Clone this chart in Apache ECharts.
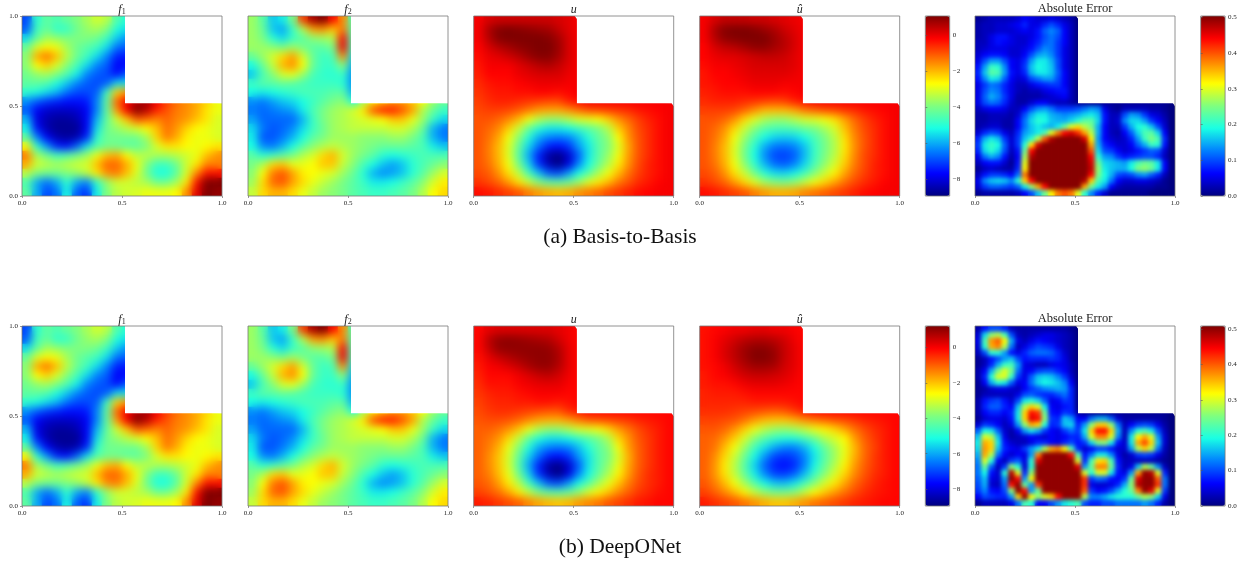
<!DOCTYPE html>
<html><head><meta charset="utf-8">
<script src="https://cdn.jsdelivr.net/npm/echarts@6/dist/echarts.min.js"></script>
<style>html,body{margin:0;padding:0;background:#fff}#c{width:1249px;height:565px}</style>
</head><body><div id="c"></div>
<script>
const unitTicks=[0,0.5,1];
const solutionTicks=[-8,-6,-4,-2,0];
const errorTicks=[0,0.1,0.2,0.3,0.4,0.5];
const f1Range=[-2,100];
const f2Range=[-6,100];
const solutionRangeA=[-8.94,1.06];
const solutionRangeB=[-8.96,1.22];
const errorRangeA=[0,50.4];
const errorRangeB=[0,50.9];
const f1Rows=[
[18,39,45,43,46,49,53,57,55,43,38],
[20,41,46,39,40,47,51,53,49,37,33],
[33,45,53,51,49,49,49,47,41,31,25],
[46,58,62,60,53,47,44,41,33,22,20],
[50,70,76,68,55,47,41,33,24,14,13],
[50,62,66,58,50,42,33,24,20,10,12],
[47,51,53,49,43,35,24,20,18,12,20],
[45,45,43,37,31,24,20,18,20,33,33],
[39,37,33,29,22,18,18,20,41,66,72],
[25,20,16,14,12,12,13,24,45,77,88,94,96,88,81,76,73,70,66,60],
[20,10,6,5,5,6,10,24,45,72,88,100,94,84,79,75,73,70,64,60],
[29,8,3,1,1,3,10,29,45,57,68,79,77,74,77,74,72,68,64,58],
[35,12,3,0,0,0,10,33,47,51,55,58,62,68,76,72,66,62,60,58],
[45,24,10,3,1,3,14,39,47,47,47,47,53,66,75,70,63,60,60,58],
[62,39,26,14,12,20,33,43,47,47,45,45,49,58,64,64,62,60,62,64],
[75,53,47,41,43,47,52,60,68,70,62,55,55,53,53,55,57,60,68,73],
[70,57,55,53,55,57,58,68,77,77,70,60,49,41,41,47,57,64,74,74],
[55,49,47,47,49,51,55,64,73,75,68,58,47,37,37,45,58,74,86,86],
[43,28,22,28,39,28,24,39,51,57,57,55,53,47,47,53,64,86,100,100],
[45,28,18,22,37,20,16,35,49,55,57,58,60,60,60,62,73,90,100,98]];
const f2Rows=[
[50,42,28,32,46,80,96,100,86,72,40],
[50,44,28,24,38,52,70,72,66,74,40],
[50,46,36,30,38,42,48,50,52,86,40],
[50,50,48,46,50,46,42,42,46,88,40],
[44,50,56,64,70,56,44,38,40,72,30],
[34,44,54,68,72,60,44,38,38,48,25],
[28,40,48,56,58,50,40,37,36,38,22],
[38,42,42,44,42,40,38,38,38,36,22],
[34,32,34,36,38,40,40,40,42,42,25],
[22,20,24,28,30,34,38,42,46,48,34,50,62,66,70,70,66,60,50,44],
[20,18,20,22,24,32,40,46,50,52,56,62,78,84,84,78,70,52,44,38],
[24,18,18,18,18,26,38,46,50,52,54,56,58,60,66,66,58,50,38,30],
[30,20,16,18,22,30,38,44,50,52,54,54,54,54,56,56,52,44,26,20],
[32,16,16,20,26,34,42,46,50,50,50,48,48,48,50,50,46,40,26,20],
[34,22,20,26,34,42,48,52,54,52,50,48,46,44,44,44,42,40,32,28],
[42,36,38,42,46,52,56,64,68,56,50,46,42,36,34,36,38,40,40,40],
[46,52,64,66,58,58,60,66,66,54,48,40,34,28,24,28,36,40,44,48],
[48,60,74,78,70,62,60,58,56,50,44,36,26,22,24,28,36,42,50,56],
[50,64,76,78,70,64,58,54,50,46,42,38,32,32,34,38,42,48,56,62],
[54,64,68,68,64,58,54,50,48,46,42,40,38,38,40,42,46,52,60,64]];
const uRows=[
[-.1,.2,.3,.3,.3,.3,.3,.3,.2,.1,-.1],
[-.1,.6,1,1.06,1,.9,.8,.7,.4,.1,-.1],
[-.1,.5,1,1.06,1.06,1.06,1.06,1,.7,.2,-.1],
[-.2,.2,.5,.7,.9,1,1.06,1.06,.8,.2,-.1],
[-.3,0,.1,.3,.5,.8,1,1,.7,.2,-.1],
[-.4,-.1,-.1,-.1,.1,.3,.5,.6,.4,.1,-.1],
[-.5,-.2,-.2,-.2,0,.1,.2,.2,.2,0,-.1],
[-.6,-.4,-.3,-.3,-.2,-.1,0,0,0,-.1,-.1],
[-.7,-.5,-.4,-.4,-.3,-.3,-.2,-.2,-.3,-.2,-.1],
[-.8,-.6,-.5,-.5,-.6,-.7,-.8,-.9,-.9,-.5,-.3,-.1,-.1,-.1,-.1,-.1,-.1,-.1,-.1,-.1],
[-.9,-.8,-.8,-.9,-1.1,-1.4,-1.7,-1.8,-1.8,-1.6,-1.3,-1,-.9,-.8,-.7,-.6,-.4,-.3,-.2,-.1],
[-1,-1,-1.2,-1.5,-2,-2.8,-3.4,-3.7,-3.7,-3.4,-3,-2.9,-2.7,-2.2,-1.6,-1.2,-.8,-.5,-.3,-.1],
[-1,-1.2,-1.5,-2.2,-3.2,-4.2,-5,-5.4,-5.4,-5.2,-4.8,-4.4,-4,-3.4,-2.2,-1.5,-.9,-.6,-.3,-.1],
[-1,-1.3,-1.8,-2.8,-3.8,-5,-6,-6.4,-6.5,-6.4,-5.8,-5,-4.3,-3.8,-2.7,-1.6,-1,-.6,-.3,-.1],
[-1,-1.4,-2,-3,-4.2,-5.6,-6.6,-7.4,-7.6,-7.2,-6.2,-5.4,-4.4,-3.9,-3,-1.8,-1,-.6,-.3,-.1],
[-1,-1.4,-2,-3,-4.4,-6,-7.4,-8.6,-8.9,-8.2,-6.8,-5.4,-4.4,-3.7,-2.8,-1.7,-1,-.6,-.3,-.1],
[-1,-1.3,-1.9,-2.8,-4,-5.6,-7.2,-8.4,-8.9,-8,-6.4,-5.2,-4.2,-3.4,-2.5,-1.6,-.9,-.5,-.3,-.1],
[-.9,-1.1,-1.6,-2.4,-3.3,-4.6,-5.8,-6.8,-7,-6.2,-5.2,-4.4,-3.5,-2.8,-2,-1.3,-.8,-.5,-.3,-.1],
[-.7,-.9,-1.2,-1.7,-2.4,-3.2,-3.9,-4.3,-4.4,-4.2,-3.7,-3,-2.5,-2,-1.4,-1,-.6,-.4,-.2,-.1],
[-.3,-.4,-.6,-.8,-1,-1.4,-1.7,-1.9,-2,-1.9,-1.6,-1.4,-1.2,-.9,-.7,-.5,-.3,-.2,-.1,-.1]];
const uHatARows=[
[-.1,.2,.4,.4,.4,.3,.3,.2,.1,0,-.1],
[-.1,.6,1,1.06,1.06,1,.8,.6,.3,.1,-.1],
[-.1,.5,.9,1,1.06,1.06,1.06,.8,.5,.2,-.1],
[-.2,.2,.4,.5,.7,.9,.9,.7,.5,.2,-.1],
[-.2,0,.1,.1,.2,.3,.4,.4,.3,.1,-.1],
[-.3,-.1,-.1,0,.1,.2,.2,.2,.2,.1,-.1],
[-.4,-.2,-.2,-.1,0,.1,.1,.1,.1,0,-.1],
[-.4,-.3,-.2,-.2,-.1,0,0,0,-.1,-.1,-.1],
[-.5,-.4,-.3,-.3,-.3,-.2,-.2,-.2,-.3,-.2,-.1],
[-.6,-.5,-.5,-.5,-.6,-.7,-.8,-.9,-.8,-.5,-.3,-.1,-.1,-.1,-.1,-.1,-.1,-.1,-.1,-.1],
[-.8,-.8,-.8,-.9,-1.2,-1.6,-2,-2,-2,-1.8,-1.4,-1.2,-1,-.9,-.7,-.6,-.4,-.3,-.2,-.1],
[-1,-1,-1.2,-1.6,-2.3,-3,-3.5,-3.7,-3.7,-3.4,-3.1,-3,-2.8,-2.4,-1.8,-1.2,-.8,-.5,-.3,-.1],
[-1,-1.2,-1.6,-2.3,-3.2,-3.9,-4.4,-4.6,-4.6,-4.5,-4.2,-4,-3.6,-3.1,-2.1,-1.4,-.9,-.6,-.3,-.1],
[-1,-1.3,-1.8,-2.8,-3.7,-4.5,-5.2,-5.6,-5.7,-5.6,-5.2,-4.6,-4,-3.4,-2.4,-1.5,-1,-.6,-.3,-.1],
[-1,-1.4,-2,-3,-4,-5,-6,-6.5,-6.6,-6.4,-5.8,-4.8,-4.1,-3.5,-2.5,-1.6,-1,-.6,-.3,-.1],
[-1,-1.4,-2,-3,-4.1,-5.2,-6.3,-7,-7.1,-6.8,-5.9,-4.8,-4,-3.4,-2.4,-1.5,-.9,-.6,-.3,-.1],
[-1,-1.3,-1.9,-2.8,-3.8,-4.9,-5.9,-6.6,-6.8,-6.4,-5.6,-4.6,-3.8,-3.1,-2.2,-1.4,-.9,-.5,-.3,-.1],
[-.9,-1.1,-1.6,-2.4,-3.2,-4.1,-5,-5.5,-5.6,-5.3,-4.7,-3.9,-3.2,-2.6,-1.8,-1.2,-.8,-.5,-.3,-.1],
[-.7,-.9,-1.2,-1.7,-2.3,-3,-3.6,-3.9,-4,-3.8,-3.3,-2.8,-2.3,-1.8,-1.3,-.9,-.6,-.4,-.2,-.1],
[-.3,-.4,-.6,-.8,-1,-1.4,-1.7,-1.9,-1.9,-1.8,-1.5,-1.3,-1.1,-.9,-.7,-.5,-.3,-.2,-.1,-.1]];
const uHatBRows=[
[-.2,-.1,0,.1,.1,.2,.2,.1,.1,0,-.1],
[-.2,0,.2,.4,.6,.7,.7,.6,.4,.1,-.1],
[-.2,0,.3,.6,.9,1.1,1.1,.9,.5,.2,-.1],
[-.2,0,.3,.6,.9,1.2,1.2,1,.5,.2,-.1],
[-.2,-.1,.1,.4,.7,.9,.9,.8,.4,.2,-.1],
[-.3,-.1,0,.2,.4,.5,.5,.4,.3,.1,-.1],
[-.3,-.2,-.2,-.1,.1,.2,.2,.2,.1,0,-.1],
[-.4,-.3,-.3,-.3,-.2,-.1,-.1,-.1,-.1,-.1,-.1],
[-.4,-.4,-.4,-.4,-.4,-.3,-.3,-.3,-.3,-.2,-.1],
[-.5,-.5,-.5,-.6,-.7,-.8,-.9,-1,-.9,-.6,-.3,-.1,-.1,-.1,-.1,-.1,-.1,-.1,-.1,-.1],
[-.7,-.7,-.8,-.9,-1.2,-1.6,-1.9,-2,-2,-1.8,-1.5,-1.3,-1.1,-.9,-.8,-.6,-.4,-.3,-.2,-.1],
[-.9,-.9,-1.1,-1.5,-2.1,-2.8,-3.3,-3.6,-3.7,-3.5,-3.2,-2.8,-2.5,-2.2,-1.7,-1.2,-.8,-.5,-.3,-.1],
[-1,-1.1,-1.5,-2.1,-3,-3.8,-4.4,-4.8,-5,-5,-4.6,-4.1,-3.4,-3,-2.6,-1.6,-1,-.6,-.3,-.1],
[-1,-1.2,-1.9,-2.7,-3.6,-4.6,-5.4,-6,-6.4,-6.4,-5.9,-5.1,-4.2,-3.5,-2.8,-1.9,-1.1,-.7,-.3,-.1],
[-1,-1.4,-2.2,-3.1,-4.1,-5.2,-6.2,-7,-7.2,-7,-6.4,-5.4,-4.4,-3.6,-2.8,-1.8,-1.1,-.6,-.3,-.1],
[-1,-1.5,-2.4,-3.3,-4.4,-5.6,-6.7,-7.4,-7.6,-7.3,-6.4,-5.2,-4.2,-3.4,-2.5,-1.6,-1,-.6,-.3,-.1],
[-1,-1.5,-2.3,-3.2,-4.2,-5.3,-6.3,-7,-7.1,-6.7,-5.8,-4.7,-3.8,-3,-2.2,-1.4,-.9,-.5,-.3,-.1],
[-.9,-1.3,-1.9,-2.7,-3.5,-4.4,-5.2,-5.7,-5.8,-5.4,-4.6,-3.8,-3,-2.4,-1.7,-1.1,-.7,-.4,-.2,-.1],
[-.7,-1,-1.4,-1.9,-2.5,-3.2,-3.7,-4,-4,-3.8,-3.2,-2.6,-2.1,-1.6,-1.2,-.8,-.5,-.3,-.2,-.1],
[-.3,-.5,-.7,-.9,-1.2,-1.5,-1.8,-2,-2,-1.8,-1.5,-1.2,-1,-.8,-.6,-.4,-.3,-.2,-.1,-.1]];
const errARows=[
[1,2,3,3,3,3,4,6,5,4,4,5,4,3,2,0],
[2,3,3,4,4,5,6,8,5,5,8,10,8,5,3,0],
[2,3,3,4,4,4,5,6,5,7,11,13,11,6,3,0],
[2,3,5,7,7,5,4,4,5,7,10,12,10,6,3,0],
[3,3,5,7,6,5,4,4,6,8,11,12,9,6,3,0],
[3,4,5,5,5,4,4,5,7,10,13,12,9,5,3,0],
[4,6,7,7,6,4,4,6,10,14,15,13,9,5,3,0],
[5,10,14,14,10,6,5,8,14,18,18,15,10,5,3,0],
[7,14,21,20,13,6,5,9,16,19,18,16,10,5,3,0],
[8,16,23,22,14,7,5,8,15,18,18,16,11,6,3,0],
[7,13,18,17,11,6,4,5,10,12,14,14,10,6,3,0],
[5,9,12,11,8,5,3,3,5,7,8,9,9,6,3,0],
[5,10,13,12,8,5,3,2,3,3,5,6,7,7,3,0],
[5,11,15,13,9,5,2,2,2,2,3,4,5,6,3,0],
[5,10,12,11,8,4,2,2,4,6,6,4,3,3,2,1,1,1,1,1,1,1,1,1,1,1,1,1,1,0],
[3,5,6,6,5,3,3,6,10,13,14,12,9,9,9,10,12,14,13,5,2,1,3,3,3,3,2,2,1,0],
[2,2,3,3,3,2,4,10,15,18,18,15,14,13,14,15,17,18,16,7,3,3,10,14,13,9,5,4,2,0],
[2,2,3,3,2,2,6,12,17,20,19,16,15,15,17,20,23,23,17,7,3,4,13,17,17,14,9,6,3,0],
[2,3,4,4,2,2,6,12,16,18,16,15,18,24,30,33,28,25,15,6,3,3,9,15,19,20,16,10,4,0],
[4,8,10,9,5,3,8,14,16,18,22,30,38,44,46,42,36,28,15,6,3,2,6,11,17,22,23,17,6,0],
[8,15,18,16,9,4,9,16,20,28,40,48,50,50,50,50,46,32,14,6,4,3,4,8,14,21,25,22,8,0],
[9,18,21,19,11,4,9,20,33,46,50,50,50,50,50,50,50,36,15,8,6,4,4,6,11,15,21,20,7,0],
[8,17,20,17,10,3,7,24,44,50,50,50,50,50,50,50,50,40,17,10,9,6,4,5,7,9,11,10,4,0],
[5,12,15,13,7,2,6,27,48,50,50,50,50,50,50,50,50,44,20,14,13,9,7,8,9,10,10,8,3,0],
[3,6,7,7,4,1,7,30,50,50,50,50,50,50,50,50,50,46,24,17,16,15,14,18,22,24,23,18,6,0],
[1,3,4,3,2,2,8,32,50,50,50,50,50,50,50,50,50,47,26,18,16,15,15,19,25,26,24,18,6,0],
[3,7,9,9,8,6,12,38,50,50,50,50,50,50,50,50,50,44,25,19,15,10,9,10,13,14,11,8,3,0],
[5,13,16,17,16,13,20,34,44,50,50,50,50,50,50,50,48,34,22,18,12,6,4,4,5,5,4,3,1,0],
[4,9,11,11,10,9,11,18,26,36,44,50,50,50,50,50,36,24,18,14,6,3,2,2,2,2,2,1,1,0],
[1,2,2,2,2,2,3,6,10,16,24,32,38,40,38,30,20,13,8,4,1,1,1,1,1,1,0,0,0,0]];
const errBRows=[
[2,7,10,10,8,3,2,2,2,2,2,2,2,2,1,0],
[4,17,26,28,22,10,3,2,3,4,5,5,4,3,2,0],
[5,22,37,40,32,15,5,3,5,7,6,5,4,3,2,0],
[4,20,36,38,28,12,3,5,8,10,9,8,5,3,2,0],
[3,10,20,20,14,7,5,8,11,12,12,11,8,4,2,0],
[1,3,7,10,14,16,10,7,8,8,8,9,8,5,2,0],
[1,3,8,15,21,22,14,5,4,3,3,5,6,5,3,0],
[2,6,15,25,30,25,12,5,6,9,10,10,8,6,3,0],
[2,8,20,30,30,21,9,5,11,16,17,16,13,9,4,0],
[1,6,15,20,18,11,5,6,12,17,19,18,16,13,6,0],
[1,2,4,5,5,4,3,6,9,11,13,14,15,14,8,0],
[1,3,3,3,3,3,5,10,11,9,8,8,10,12,8,0],
[2,7,9,10,7,4,10,18,20,17,11,5,6,9,8,0],
[2,8,11,11,8,6,16,28,34,30,18,6,5,7,8,0],
[2,6,8,8,6,8,18,34,44,42,24,7,6,9,8,2,1,1,1,1,1,1,1,1,1,1,1,1,1,0],
[1,4,5,5,4,7,18,34,46,44,26,9,8,16,14,6,6,12,15,15,11,4,2,2,2,2,2,2,1,0],
[4,9,8,6,3,5,14,26,36,34,20,8,9,16,17,8,14,26,34,34,26,12,3,6,9,10,9,5,2,0],
[11,19,18,11,4,2,6,14,18,15,9,6,5,9,12,9,18,34,44,44,34,15,3,13,20,22,18,10,3,0],
[16,30,28,16,5,2,3,4,6,5,4,6,5,6,8,8,15,30,38,38,30,13,3,18,32,36,30,14,4,0],
[18,36,34,18,7,4,3,3,5,8,8,6,5,8,10,7,9,17,25,26,18,7,4,18,36,41,34,16,4,0],
[17,37,34,16,8,6,5,9,14,18,28,36,38,32,22,8,4,6,9,9,7,4,4,14,28,34,28,12,3,0],
[15,36,28,12,6,4,6,5,14,38,50,50,50,50,44,22,7,12,18,18,13,5,2,4,9,10,9,5,2,0],
[13,30,20,6,3,9,11,5,20,46,50,50,50,50,50,30,8,22,33,34,22,7,3,3,3,3,3,2,1,0],
[12,24,11,3,9,26,20,4,20,50,50,50,50,50,50,46,14,24,38,38,24,8,3,5,16,28,24,13,3,0],
[12,19,7,4,20,48,30,8,26,50,50,50,50,50,50,50,30,20,30,30,18,7,5,14,36,50,48,30,8,0],
[11,16,5,4,14,50,44,14,32,50,50,50,50,50,50,50,42,9,12,11,7,6,9,24,46,50,50,40,12,0],
[10,15,4,3,12,44,50,24,14,42,50,50,50,50,50,50,42,5,4,4,5,8,15,26,48,50,50,42,12,0],
[9,13,7,6,10,26,50,44,14,24,50,50,50,50,50,50,40,9,6,7,10,15,20,24,38,50,46,30,9,0],
[6,10,9,8,8,14,34,50,32,26,30,34,44,50,50,50,28,13,13,15,18,20,20,20,24,28,26,17,5,0],
[1,3,3,3,3,5,12,22,20,6,6,10,14,18,20,22,10,8,8,10,10,12,12,12,12,14,12,8,2,0]];

const jet=['#00007f','#0000ff','#007fff','#19ffe5','#7fff7f','#ffff00','#ff7f00','#ff0000','#7f0000'];
const serif='"Liberation Serif","DejaVu Serif",serif';
const W=200, H=180, NX=103, NY=87.6;
const lefts=[22,248,473.7,699.7,975], tops=[16,326];
const titleRich={i:{fontFamily:serif,fontStyle:'italic',fontWeight:'normal',fontSize:12,color:'#222'},s:{fontFamily:serif,fontWeight:'normal',fontSize:8,color:'#222',verticalAlign:'bottom',padding:[4,0,0,0]},t:{fontFamily:serif,fontWeight:'normal',fontSize:12.5,color:'#222'}};
const panels=[
 {col:0,row:0,rows:f1Rows,range:f1Range,title:'{i|f}{s|1}'},
 {col:1,row:0,rows:f2Rows,range:f2Range,title:'{i|f}{s|2}'},
 {col:2,row:0,rows:uRows,range:solutionRangeA,title:'{i|u}',cut:1},
 {col:3,row:0,rows:uHatARows,range:solutionRangeA,title:'{i|û}',cut:1,bar:{left:925.3,ticks:solutionTicks}},
 {col:4,row:0,rows:errARows,cells:30,range:errorRangeA,title:'{t|Absolute Error}',cut:1,bar:{left:1200.7,ticks:errorTicks,err:1}},
 {col:0,row:1,rows:f1Rows,range:f1Range,title:'{i|f}{s|1}'},
 {col:1,row:1,rows:f2Rows,range:f2Range,title:'{i|f}{s|2}'},
 {col:2,row:1,rows:uRows,range:solutionRangeB,title:'{i|u}',cut:1},
 {col:3,row:1,rows:uHatBRows,range:solutionRangeB,title:'{i|û}',cut:1,bar:{left:925.3,ticks:solutionTicks}},
 {col:4,row:1,rows:errBRows,cells:30,range:errorRangeB,title:'{t|Absolute Error}',cut:1,bar:{left:1200.7,ticks:errorTicks,err:1}}
];
const grid=[],xAxis=[],yAxis=[],series=[],visualMap=[],title=[];
let clip='';
const lbl={fontFamily:serif,fontSize:7,color:'#222',margin:4};
const valueAxis=(i,pos,ticks,fmt,min,max,show)=>({type:'value',gridIndex:i,position:pos,min,max,zlevel:4,show,
  axisLine:{show:false},splitLine:{show:false},
  axisTick:{show:true,length:2,lineStyle:{color:'#555',width:.6},customValues:ticks},
  axisLabel:Object.assign({},lbl,{customValues:ticks,formatter:fmt})});
const f1=v=>v.toFixed(1);
panels.forEach((p,i)=>{
  const l=lefts[p.col],t=tops[p.row],n=p.cells||20;
  const idx=[...Array(n).keys()];
  grid.push({show:true,left:l,top:t,width:W,height:H,borderColor:'#777',borderWidth:.8,backgroundColor:'transparent',zlevel:4,z:5});
  xAxis.push({type:'category',gridIndex:i,show:false,data:idx},valueAxis(i,'bottom',unitTicks,f1,0,1,true));
  yAxis.push({type:'category',gridIndex:i,show:false,data:idx},valueAxis(i,'left',unitTicks,f1,0,1,p.col===0));
  const data=[];
  p.rows.forEach((row,r)=>row.forEach((v,c)=>data.push([c,n-1-r,v])));
  [1,p.cells?3:2].forEach(z=>series.push({type:'heatmap',data,xAxisIndex:2*i,yAxisIndex:2*i,zlevel:z,silent:true,progressive:0,animation:false,itemStyle:{borderWidth:0},emphasis:{disabled:true}}));
  visualMap.push({type:'continuous',seriesIndex:[2*i,2*i+1],dimension:2,min:p.range[0],max:p.range[1],show:!!p.bar,calculable:false,hoverLink:false,
    inRange:{color:jet},orient:'vertical',itemWidth:24.4,itemHeight:H,left:p.bar?p.bar.left:0,top:t,padding:0,text:null,showLabel:false,textStyle:{fontSize:0}});
  title.push({text:p.title,left:l+W/2,top:t-(p.title.includes('Absolute')?14:12),textAlign:'center',zlevel:4,padding:0,textStyle:{rich:titleRich,fontFamily:serif,fontSize:12,fontWeight:'normal'}});
  const c=p.cut?2:0, r=l+W, b=t+H, nx=l+NX, ny=t+NY;
  clip+=`M${l} ${t}H${nx-c}L${nx} ${t+c*1.5}V${ny}H${r-c}L${r} ${ny+c*1.5}V${b}H${l}Z`;
});
let g=panels.length;
panels.filter(p=>p.bar).forEach(p=>{
  const t=tops[p.row],sc=p.bar.err?100:1;
  grid.push({show:true,left:p.bar.left,top:t,width:24.4,height:H,borderColor:'#777',borderWidth:.8,backgroundColor:'transparent',zlevel:4,z:5});
  xAxis.push({type:'value',gridIndex:g,show:false,min:0,max:1});
  const fmt=p.bar.err?(v=>v.toFixed(1)):(v=>(v<0?'\u2212':'')+Math.abs(v));
  const a=valueAxis(g,'right',p.bar.ticks,fmt,p.range[0]/sc,p.range[1]/sc,true);
  a.axisLabel.margin=3;
  yAxis.push(a);
  g++;
});
[['(a) Basis-to-Basis',226],['(b) DeepONet',536]].forEach(([text,top])=>title.push({text,left:620,top,textAlign:'center',padding:0,zlevel:4,textStyle:{fontFamily:serif,fontSize:21.5,fontWeight:'normal',color:'#111'}}));

const st=document.createElement('style');
const cp=`clip-path:path('${clip}');`;
st.textContent=`canvas[data-zr-dom-id="zr_1"]{${cp}}canvas[data-zr-dom-id="zr_2"]{filter:blur(4px);${cp}}canvas[data-zr-dom-id="zr_3"]{filter:blur(2.2px);${cp}}`;
document.head.appendChild(st);
const chart=echarts.init(document.getElementById('c'));
chart.setOption({animation:false,backgroundColor:'#fff',tooltip:{show:false},title,grid,xAxis,yAxis,visualMap,series});
</script></body></html>
